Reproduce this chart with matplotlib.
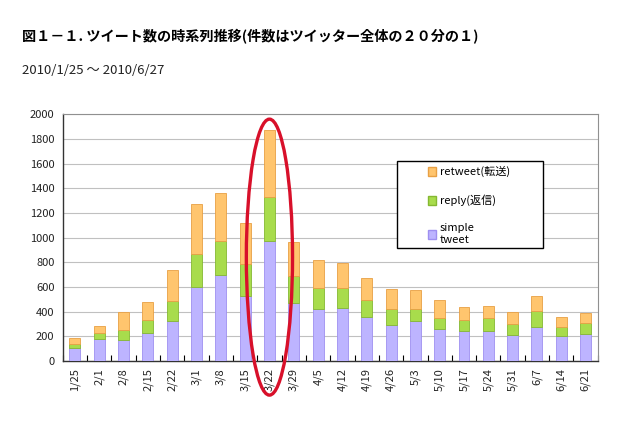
import matplotlib.pyplot as plt
from matplotlib.patches import Ellipse, Patch, Rectangle
import numpy as np

plt.rcParams['font.family'] = ['Noto Sans CJK JP', 'DejaVu Sans']

# weekly tweet counts (1/20 sample)
weeks = ['1/25', '2/1', '2/8', '2/15', '2/22', '3/1', '3/8', '3/15', '3/22', '3/29',
         '4/5', '4/12', '4/19', '4/26', '5/3', '5/10', '5/17', '5/24', '5/31',
         '6/7', '6/14', '6/21']
simple = [108, 181, 167, 229, 324, 599, 699, 529, 974, 472,
          424, 432, 359, 294, 327, 259, 246, 246, 213, 273, 200, 221]
reply = [27, 43, 81, 103, 162, 270, 275, 254, 357, 216,
         170, 156, 132, 124, 97, 86, 83, 99, 89, 135, 78, 89]
retweet = [48, 59, 149, 143, 254, 400, 389, 332, 539, 276,
           221, 203, 184, 162, 148, 149, 106, 98, 95, 121, 78, 76]

highlight = '3/22'

fig = plt.figure(figsize=(6.4, 4.34), dpi=100)
ax = fig.add_axes([0.098, 0.168, 0.836, 0.569])

x = np.arange(len(weeks))
w = 0.45
c_simple, e_simple = '#BDB4FF', '#9E8FF0'
c_reply, e_reply = '#A8DC4C', '#85B832'
c_rt, e_rt = '#FFC56E', '#E8A044'

ax.bar(x, simple, w, color=c_simple, edgecolor=e_simple, linewidth=0.6, zorder=3)
ax.bar(x, reply, w, bottom=simple, color=c_reply, edgecolor=e_reply, linewidth=0.6, zorder=3)
bottom2 = np.array(simple) + np.array(reply)
ax.bar(x, retweet, w, bottom=bottom2, color=c_rt, edgecolor=e_rt, linewidth=0.6, zorder=3)

ax.set_xlim(-0.5, len(weeks) - 0.5)
ax.set_ylim(0, 2000)
ax.set_yticks(range(0, 2001, 200))
ax.yaxis.grid(True, color='#C0C0C0', linewidth=0.8, zorder=0)
ax.set_xticks(x)
ax.set_xticklabels(weeks, rotation=90, fontsize=8, color='#222222')
ax.set_xticks(np.arange(-0.5, len(weeks)), minor=True)
ax.tick_params(axis='x', which='major', length=0, pad=5)
ax.tick_params(axis='x', which='minor', length=4, direction='in', width=0.8)
ax.tick_params(axis='y', length=0, labelsize=8, labelcolor='#222222', pad=6)

for side in ['top', 'right']:
    ax.spines[side].set_color('#909090')
for side in ['left', 'bottom']:
    ax.spines[side].set_color('#333333')
    ax.spines[side].set_linewidth(1.0)

# red ellipse around the peak week
i = weeks.index(highlight)
ell = Ellipse((i, 842), 1.9, 2235, fill=False, edgecolor='#D8102A',
              linewidth=2.4, clip_on=False, zorder=5)
ax.add_patch(ell)

# legend box (Excel style, wide frame)
frame = Rectangle((397 / 640, 1 - 248 / 434), 146 / 640, 87 / 434,
                  transform=fig.transFigure, facecolor='white', edgecolor='black',
                  linewidth=1.0, zorder=5)
fig.patches.append(frame)

handles = [Patch(facecolor=c_rt, edgecolor=e_rt),
           Patch(facecolor=c_reply, edgecolor=e_reply),
           Patch(facecolor=c_simple, edgecolor=e_simple)]
labels = ['retweet(転送)', 'reply(返信)', 'simple\ntweet']
leg = fig.legend(handles, labels, loc='upper left', bbox_to_anchor=(0.668, 0.617),
                 fontsize=8, frameon=False,
                 handlelength=0.8, handleheight=0.8, handletextpad=0.3,
                 labelspacing=1.55, borderpad=0, borderaxespad=0)
leg.set_zorder(6)

fig.text(0.034, 0.915, '図１－１. ツイート数の時系列推移(件数はツイッター全体の２０分の１)',
         fontsize=10.2, fontweight='bold', ha='left', va='center')
fig.text(0.034, 0.838, '2010/1/25 ～ 2010/6/27', fontsize=9.5, ha='left', va='center',
         color='#222222')

fig.savefig('out.png', dpi=100)
